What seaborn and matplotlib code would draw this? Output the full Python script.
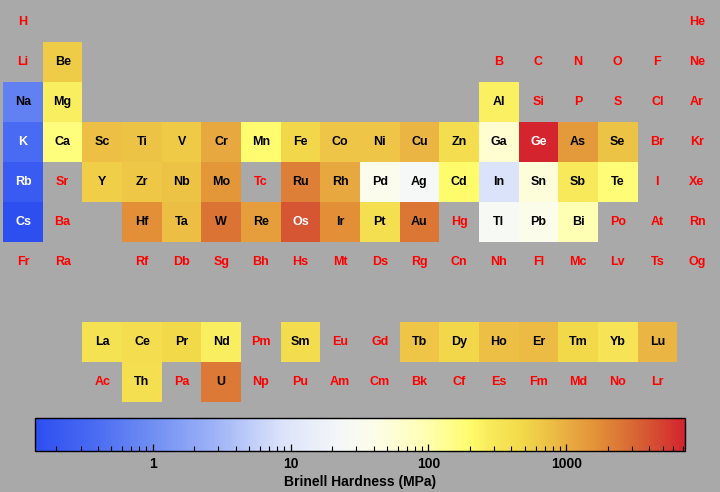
import numpy as np
import pandas as pd
import matplotlib
matplotlib.use("Agg")
import matplotlib.pyplot as plt
import seaborn as sns
from matplotlib import font_manager as fm
from matplotlib.colors import LinearSegmentedColormap, LogNorm
from matplotlib.ticker import LogLocator, NullFormatter

nan = np.nan

# ---- data ----
symbols = [
    "H", "He",
    "Li", "Be", "B", "C", "N", "O", "F", "Ne",
    "Na", "Mg", "Al", "Si", "P", "S", "Cl", "Ar",
    "K", "Ca", "Sc", "Ti", "V", "Cr", "Mn", "Fe", "Co", "Ni", "Cu", "Zn", "Ga", "Ge", "As", "Se", "Br", "Kr",
    "Rb", "Sr", "Y", "Zr", "Nb", "Mo", "Tc", "Ru", "Rh", "Pd", "Ag", "Cd", "In", "Sn", "Sb", "Te", "I", "Xe",
    "Cs", "Ba", "Hf", "Ta", "W", "Re", "Os", "Ir", "Pt", "Au", "Hg", "Tl", "Pb", "Bi", "Po", "At", "Rn",
    "Fr", "Ra", "Rf", "Db", "Sg", "Bh", "Hs", "Mt", "Ds", "Rg", "Cn", "Nh", "Fl", "Mc", "Lv", "Ts", "Og",
    "La", "Ce", "Pr", "Nd", "Pm", "Sm", "Eu", "Gd", "Tb", "Dy", "Ho", "Er", "Tm", "Yb", "Lu",
    "Ac", "Th", "Pa", "U", "Np", "Pu", "Am", "Cm", "Bk", "Cf", "Es", "Fm", "Md", "No", "Lr",
]
periods = (
    [1] * 2 + [2] * 8 + [3] * 8 + [4] * 18 + [5] * 18 + [6] * 17 + [7] * 17 + [9] * 15 + [10] * 15
)
groups = (
    [1, 18]
    + [1, 2] + list(range(13, 19))
    + [1, 2] + list(range(13, 19))
    + list(range(1, 19))
    + list(range(1, 19))
    + [1, 2] + list(range(4, 19))
    + [1, 2] + list(range(4, 19))
    + list(range(3, 18))
    + list(range(3, 18))
)
hardness = [
    nan, nan,
    nan, 600, nan, nan, nan, nan, nan, nan,
    0.69, 260, 245, nan, nan, nan, nan, nan,
    0.363, 167, 750, 716, 628, 1120, 196, 490, 700, 700, 874, 412, 60, 7273, 1440, 736, nan, nan,
    0.216, nan, 589, 650, 736, 1500, nan, 2160, 1100, 37.3, 24.5, 203, 8.83, 51, 294, 180, nan, nan,
    0.14, nan, 1700, 800, 2570, 1320, 3920, 1670, 392, 2450, nan, 26.4, 38.3, 94.2, nan, nan, nan,
    nan, nan, nan, nan, nan, nan, nan, nan, nan, nan, nan, nan, nan, nan, nan, nan, nan,
    363, 412, 481, 265, nan, 441, nan, nan, 677, 500, 746, 814, 471, 343, 893,
    nan, 400, nan, 2400, nan, nan, nan, nan, nan, nan, nan, nan, nan, nan, nan,
]
cbar_ticks = [1, 10, 100, 1000]
cbar_ticklabels = ["1", "10", "100", "1000"]
cbar_title = "Brinell Hardness (MPa)"

df = pd.DataFrame({"symbol": symbols, "period": periods, "group": groups, "hardness": hardness})
grid = (
    df.pivot(index="period", columns="group", values="hardness")
    .reindex(index=range(1, 11), columns=range(1, 19))
)

# ---- colormap (temperature-map style) ----
nodes = [
    (0.00, (0.18, 0.31, 0.94)),
    (0.09, (0.29, 0.42, 0.95)),
    (0.18, (0.44, 0.56, 0.95)),
    (0.28, (0.63, 0.71, 0.97)),
    (0.38, (0.86, 0.89, 0.98)),
    (0.47, (0.96, 0.97, 0.97)),
    (0.52, (0.99, 0.99, 0.92)),
    (0.60, (1.00, 1.00, 0.70)),
    (0.67, (1.00, 0.99, 0.42)),
    (0.70, (0.97, 0.92, 0.36)),
    (0.75, (0.95, 0.85, 0.29)),
    (0.79, (0.93, 0.76, 0.27)),
    (0.83, (0.91, 0.65, 0.25)),
    (0.86, (0.89, 0.58, 0.22)),
    (0.90, (0.86, 0.47, 0.21)),
    (0.94, (0.84, 0.35, 0.20)),
    (1.00, (0.83, 0.14, 0.18)),
]
cmap = LinearSegmentedColormap.from_list("tempmap", nodes)

# pick the regular (non-narrow) Liberation Sans Bold file
bold_file = None
for f in fm.fontManager.ttflist:
    base = f.fname.replace("\\", "/").split("/")[-1].lower()
    if base == "liberationsans-bold.ttf":
        bold_file = f.fname
        break
if bold_file:
    fp = lambda size: fm.FontProperties(fname=bold_file, size=size)
else:
    fp = lambda size: fm.FontProperties(family="DejaVu Sans", weight="bold", size=size)

BG = "#a9a9a9"
plt.rcParams["font.family"] = ["Liberation Sans", "DejaVu Sans"]

W, H = 720, 492
fig = plt.figure(figsize=(7.2, 4.92), dpi=100, facecolor=BG)
ax = fig.add_axes([3.2 / W, 1 - 402 / H, (716.8 - 3.2) / W, 400 / H])
ax.set_facecolor(BG)
cax = fig.add_axes([35 / W, 1 - 451 / H, 650 / W, 33 / H])

norm = LogNorm(vmin=np.nanmin(hardness), vmax=np.nanmax(hardness))
sns.heatmap(
    grid, ax=ax, cmap=cmap, norm=norm, mask=grid.isna(),
    xticklabels=False, yticklabels=False, linewidths=0,
    cbar_ax=cax, cbar_kws={"orientation": "horizontal"},
)
ax.set_xlabel("")
ax.set_ylabel("")
for s in ax.spines.values():
    s.set_visible(False)

for sym, p, g, h in zip(symbols, periods, groups, hardness):
    if np.isnan(h):
        col = "#ff0000"
    elif h < 0.5 or h > 3000:
        col = "white"
    else:
        col = "black"
    ax.text(g - 0.5, p - 0.5, sym, ha="center", va="center",
            fontproperties=fp(9), color=col)

# ---- colorbar styling ----
cb = ax.collections[0].colorbar
cb.outline.set_visible(True)
cb.outline.set_edgecolor("black")
cb.outline.set_linewidth(1.0)
cax.xaxis.set_ticks_position("bottom")
cb.set_ticks(cbar_ticks)
cb.set_ticklabels(cbar_ticklabels)
cax.xaxis.set_minor_locator(LogLocator(base=10, subs=np.arange(2, 10), numticks=20))
cax.xaxis.set_minor_formatter(NullFormatter())
cax.tick_params(axis="x", which="major", direction="in", length=5, width=0.9,
                color="black", labelcolor="black", pad=4, bottom=True, top=False)
cax.tick_params(axis="x", which="minor", direction="in", length=3.3, width=0.8,
                color="black", bottom=True, top=False)
for t in cax.get_xticklabels():
    t.set_fontproperties(fp(10))
    t.set_color("black")
cax.set_xlabel(cbar_title, fontproperties=fp(10), color="black", labelpad=3)

fig.savefig("out.png", dpi=100, facecolor=BG)
